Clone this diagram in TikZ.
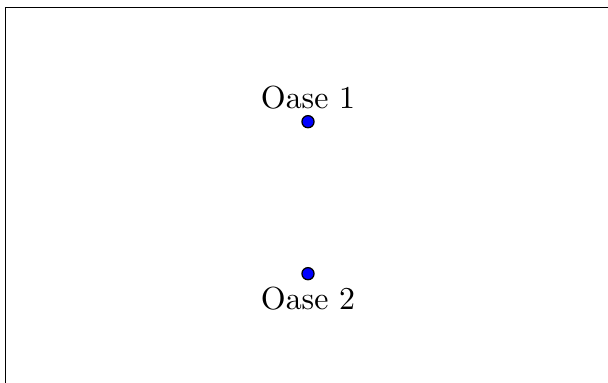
\documentclass[tikz,border=0pt]{standalone}
\usepackage{tikz}
\usetikzlibrary{positioning}

\begin{document}
\begin{tikzpicture}[
    oasis/.style={circle,draw=black,fill=blue,inner sep=0pt,minimum size=3.8pt}
]

\clip (0,0) rectangle (6.7,4.22);

% frame, right and bottom edges outside the page
\draw (0.063,-1) rectangle (7.5,4.135);

\node[oasis,label={[inner sep=1.5pt]above:Oase 1}] (oase1) at (3.394,2.879) {};
\node[oasis,label={[inner sep=2pt]below:Oase 2}] (oase2) at (3.394,1.204) {};

\end{tikzpicture}
\end{document}
